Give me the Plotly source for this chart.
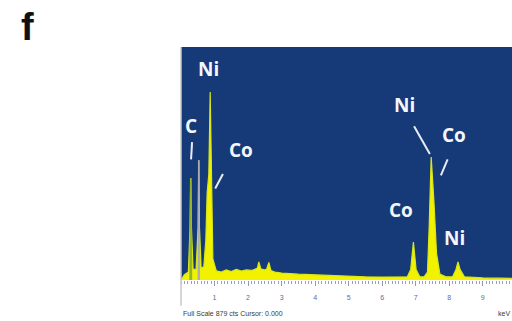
import plotly.graph_objects as go

# EDS spectrum: energy (keV) vs counts
energy = [0.00, 0.10, 0.22, 0.27, 0.29, 0.31, 0.36, 0.45, 0.51, 0.53, 0.55, 0.60,
          0.68, 0.74, 0.78, 0.83, 0.87, 0.91, 0.95, 1.05, 1.20, 1.35, 1.50, 1.65,
          1.80, 1.95, 2.10, 2.20, 2.28, 2.32, 2.38, 2.48, 2.55, 2.62, 2.68, 2.80,
          3.00, 3.50, 4.00, 4.50, 5.00, 5.50, 6.00, 6.50, 6.75, 6.85, 6.93, 7.01,
          7.12, 7.25, 7.35, 7.40, 7.46, 7.54, 7.62, 7.72, 7.90, 8.10, 8.20, 8.26,
          8.32, 8.45, 8.70, 9.00, 9.50, 9.87]
counts = [0, 20, 30, 200, 385, 200, 40, 40, 200, 452, 200, 45,
          50, 150, 330, 400, 709, 300, 80, 35, 30, 38, 32, 40,
          34, 38, 36, 40, 45, 68, 42, 38, 40, 66, 36, 30,
          26, 22, 19, 16, 14, 12, 11, 10, 12, 40, 143, 40,
          12, 12, 30, 200, 464, 300, 100, 22, 12, 12, 40, 68,
          40, 12, 9, 8, 7, 6]

# light-element peak markers drawn over the spectrum
c_energy = [0.27, 0.29, 0.31]
c_counts = [0, 385, 0]
o_energy = [0.52, 0.53, 0.54]
o_counts = [0, 452, 0]

# peak labels: (text, label x, label y, line start x, line start y, line end x, line end y)
labels = [
    ("Ni", 0.82, 795, None, None, None, None),
    ("C", 0.30, 580, 0.33, 520, 0.30, 455),
    ("Co", 1.80, 490, 1.25, 400, 1.02, 345),
    ("Ni", 6.65, 660, 6.95, 580, 7.42, 475),
    ("Co", 8.15, 548, 7.95, 455, 7.75, 395),
    ("Co", 6.55, 265, None, None, None, None),
    ("Ni", 8.15, 160, None, None, None, None),
]

tick_vals = [1, 2, 3, 4, 5, 6, 7, 8, 9]
tick_text = ["1", "2", "3", "4", "5", "6", "7", "8", "9"]

blue_bg = "#163a78"
yellow = "#f2f200"

fig = go.Figure()
fig.add_trace(go.Scatter(
    x=energy, y=counts, mode="lines", fill="tozeroy",
    line=dict(color="#d8e61a", width=1.2), fillcolor=yellow,
    hoverinfo="skip", showlegend=False))
fig.add_trace(go.Scatter(
    x=c_energy, y=c_counts, mode="lines", fill="tozeroy",
    line=dict(color="#93b52c", width=1.6), fillcolor="#93b52c",
    hoverinfo="skip", showlegend=False))
fig.add_trace(go.Scatter(
    x=o_energy, y=o_counts, mode="lines", fill="tozeroy",
    line=dict(color="#a6aeb0", width=1.6), fillcolor="#a6aeb0",
    hoverinfo="skip", showlegend=False))

label_font = dict(family="Open Sans, DejaVu Sans, sans-serif", size=19, color="#f4f6fb")
for text, lx, ly, x0, y0, x1, y1 in labels:
    fig.add_annotation(x=lx, y=ly, text=f"<b>{text}</b>", showarrow=False,
                       font=label_font, xref="x", yref="y")
    if x0 is not None:
        fig.add_shape(type="line", x0=x0, y0=y0, x1=x1, y1=y1, xref="x", yref="y",
                      line=dict(color="#e8ecf5", width=2))

fig.add_annotation(x=0, y=-0.122, xref="paper", yref="paper", xanchor="left", yanchor="top",
                   text="Full Scale 879 cts Cursor: 0.000", showarrow=False,
                   font=dict(family="Liberation Sans, sans-serif", size=7, color="#3a3a3a"))
fig.add_annotation(x=1.0, y=-0.122, xref="paper", yref="paper", xanchor="right", yanchor="top",
                   text="keV", showarrow=False,
                   font=dict(family="Liberation Sans, sans-serif", size=7, color="#3a3a3a"))

# panel letter
fig.add_annotation(x=-0.465, y=1.087, xref="paper", yref="paper", xanchor="center", yanchor="middle",
                   text="<b>f</b>", showarrow=False,
                   font=dict(family="Liberation Sans, Arial, sans-serif", size=38, color="#111111"))

# left frame line
fig.add_shape(type="line", x0=0, x1=0, y0=-0.11, y1=1.0, xref="paper", yref="paper",
              line=dict(color="#c9c9c9", width=1.5))

fig.update_layout(
    width=512, height=321,
    margin=dict(l=181, r=0, t=47, b=41),
    paper_bgcolor="white", plot_bgcolor=blue_bg,
    showlegend=False,
    xaxis=dict(range=[0, 9.87], showgrid=False, zeroline=False,
               tickvals=tick_vals, ticktext=tick_text,
               ticks="outside", ticklen=5, tickcolor="#8f96b8", tickwidth=1,
               minor=dict(dtick=0.1, ticks="outside", ticklen=3, tickcolor="#9aa0c0"),
               tickfont=dict(family="Liberation Sans, sans-serif", size=7, color="#5a6aa8"),
               ticklabelstandoff=6, fixedrange=True),
    yaxis=dict(range=[0, 879], showgrid=False, zeroline=False, showticklabels=False,
               ticks="", fixedrange=True),
)

fig.write_html("out.html")
